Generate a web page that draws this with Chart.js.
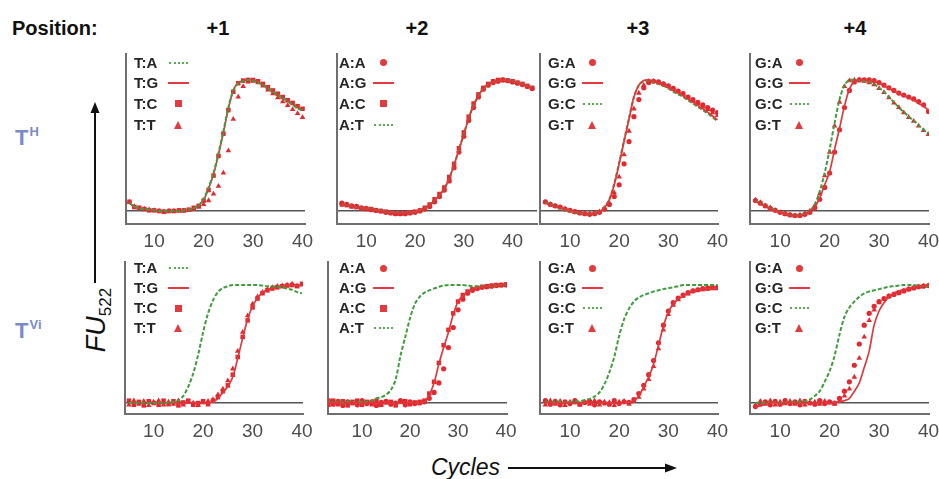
<!DOCTYPE html>
<html>
<head>
<meta charset="utf-8">
<script src="https://cdn.jsdelivr.net/npm/chart.js@4.4.1/dist/chart.umd.min.js"></script>
<style>
  html, body { margin: 0; padding: 0; background: #fff; }
  #fig { position: relative; width: 939px; height: 479px; overflow: hidden;
         font-family: "Liberation Sans", Arial, Helvetica, sans-serif; color: #111; }
  #fig canvas { position: absolute; }
  .txt { position: absolute; white-space: nowrap; line-height: 1; }
  .head { font-weight: bold; font-size: 20px; }
  .pos { transform: translateX(-50%); }
  .rowlab { color: #7a8bca; font-size: 22px; font-weight: bold; }
  .rowlab sup { font-size: 13px; vertical-align: 9px; margin-left: 1px; line-height: 0; }
  .leg { position: absolute; height: 20px; line-height: 20px; display: flex; align-items: center;
         font-weight: bold; font-size: 15px; color: #262626; white-space: nowrap; }
  .leg .t { width: 33px; }
  .leg .s { width: 22px; display: flex; justify-content: center; align-items: center; }
  .sym-line { width: 21px; height: 2px; background: #e23a3e; }
  .sym-dot { width: 19px; height: 0; border-top: 2px dotted #58ad50; }
  .sym-circle { width: 7px; height: 7px; border-radius: 50%; background: #e23a3e; }
  .sym-rect { width: 7px; height: 7px; background: #e23a3e; }
  .sym-triangle { width: 0; height: 0; border-left: 4.5px solid transparent;
                  border-right: 4.5px solid transparent; border-bottom: 8px solid #e23a3e; }
  #fu { position: absolute; left: 96px; top: 320px; transform: translate(-50%, -50%) rotate(-90deg);
        font-size: 27px; font-style: italic; white-space: nowrap; line-height: 1; }
  #fu sub { font-size: 17px; font-style: normal; vertical-align: -6px; line-height: 0; }
  #cyc { font-size: 23px; font-style: italic; }
</style>
</head>
<body>
<div id="fig">
  <svg width="939" height="479" style="position:absolute;left:0;top:0">
    <line x1="95" y1="283" x2="95" y2="112" stroke="#111" stroke-width="2"/>
    <polygon points="95,102 90.5,113 99.5,113" fill="#111"/>
    <line x1="508" y1="468" x2="666" y2="468" stroke="#111" stroke-width="2"/>
    <polygon points="677,468 665,463.5 665,472.5" fill="#111"/>
  </svg>
  <div id="fu">FU<sub>522</sub></div>
  <div class="txt" id="cyc" style="left:431px; top:456px;">Cycles</div>
</div>
<script>
// x values (PCR cycle numbers)
const cycles = [5, 6, 7, 8, 9, 10, 11, 12, 13, 14, 15, 16, 17, 18, 19, 20, 21, 22, 23, 24, 25, 26, 27, 28, 29, 30, 31, 32, 33, 34, 35, 36, 37, 38, 39, 40];
const cyclesTo44 = [5, 6, 7, 8, 9, 10, 11, 12, 13, 14, 15, 16, 17, 18, 19, 20, 21, 22, 23, 24, 25, 26, 27, 28, 29, 30, 31, 32, 33, 34, 35, 36, 37, 38, 39, 40, 41, 42, 43, 44];
const cyclesFrom3 = [3, 4, 5, 6, 7, 8, 9, 10, 11, 12, 13, 14, 15, 16, 17, 18, 19, 20, 21, 22, 23, 24, 25, 26, 27, 28, 29, 30, 31, 32, 33, 34, 35, 36, 37, 38, 39, 40];
const xTicks = [10, 20, 30, 40];

const positionLabels = ['+1', '+2', '+3', '+4'];
const rowLabels = ['H', 'Vi'];
const pairLabels = [
  ['T:A', 'T:G', 'T:C', 'T:T'],
  ['A:A', 'A:G', 'A:C', 'A:T'],
  ['G:A', 'G:G', 'G:C', 'G:T'],
  ['G:A', 'G:G', 'G:C', 'G:T']
];

// T^H row
const thP1_TA = [0.06, 0.035, 0.02, 0.015, 0.01, 0.005, 0.0, 0.0, -0.005, 0.0, 0.0, 0.005, 0.01, 0.02, 0.045, 0.09, 0.18, 0.29, 0.44, 0.61, 0.79, 0.92, 0.975, 0.99, 1.0, 0.995, 0.98, 0.96, 0.935, 0.91, 0.885, 0.86, 0.835, 0.81, 0.785, 0.765];
const thP1_TG = [0.06, 0.03, 0.02, 0.015, 0.01, 0.005, 0.0, 0.0, 0.0, 0.0, 0.0, 0.005, 0.01, 0.02, 0.04, 0.085, 0.17, 0.28, 0.43, 0.6, 0.78, 0.92, 0.98, 0.995, 1.0, 1.0, 0.985, 0.965, 0.94, 0.915, 0.89, 0.865, 0.84, 0.815, 0.795, 0.775];
const thP1_TC = [0.07, 0.03, 0.025, 0.015, 0.005, 0.005, 0.0, -0.005, 0.0, 0.0, 0.005, 0.005, 0.01, 0.025, 0.04, 0.08, 0.16, 0.27, 0.42, 0.59, 0.77, 0.91, 0.975, 0.995, 1.0, 1.0, 0.99, 0.97, 0.945, 0.92, 0.895, 0.87, 0.845, 0.825, 0.8, 0.78];
const thP1_TT = [0.07, 0.035, 0.02, 0.015, 0.01, 0.005, 0.0, -0.005, 0.0, 0.0, 0.0, 0.0, 0.005, 0.015, 0.03, 0.05, 0.08, 0.13, 0.19, 0.29, 0.46, 0.7, 0.87, 0.95, 0.985, 0.99, 0.98, 0.955, 0.925, 0.895, 0.865, 0.835, 0.805, 0.775, 0.745, 0.715];

const thP2_AA = [0.06, 0.05, 0.04, 0.035, 0.025, 0.02, 0.01, 0.005, 0.0, -0.01, -0.015, -0.02, -0.02, -0.02, -0.015, -0.01, 0.0, 0.015, 0.035, 0.07, 0.11, 0.16, 0.23, 0.33, 0.45, 0.57, 0.69, 0.79, 0.87, 0.93, 0.96, 0.98, 0.99, 1.0, 0.995, 0.985, 0.975, 0.965, 0.95, 0.935];
const thP2_AG = [0.05, 0.045, 0.04, 0.03, 0.025, 0.02, 0.015, 0.01, 0.0, -0.005, -0.01, -0.015, -0.015, -0.015, -0.01, -0.005, 0.005, 0.02, 0.045, 0.08, 0.12, 0.17, 0.25, 0.35, 0.47, 0.58, 0.71, 0.8, 0.88, 0.935, 0.965, 0.985, 0.995, 1.0, 0.995, 0.99, 0.98, 0.965, 0.955, 0.94];
const thP2_AC = [0.05, 0.045, 0.035, 0.03, 0.02, 0.015, 0.015, 0.005, 0.0, -0.005, -0.01, -0.02, -0.02, -0.015, -0.01, -0.005, 0.005, 0.025, 0.05, 0.09, 0.13, 0.18, 0.26, 0.36, 0.48, 0.6, 0.72, 0.82, 0.89, 0.94, 0.97, 0.99, 1.0, 1.0, 0.995, 0.99, 0.98, 0.97, 0.955, 0.94];
const thP2_AT = [0.05, 0.045, 0.04, 0.03, 0.025, 0.02, 0.015, 0.01, 0.005, -0.005, -0.01, -0.015, -0.015, -0.015, -0.01, -0.005, 0.005, 0.02, 0.045, 0.08, 0.12, 0.17, 0.25, 0.35, 0.47, 0.59, 0.71, 0.81, 0.88, 0.935, 0.965, 0.985, 0.995, 1.0, 0.995, 0.99, 0.98, 0.97, 0.955, 0.945];

const thP3_GA = [0.07, 0.05, 0.04, 0.03, 0.015, 0.005, -0.005, -0.015, -0.02, -0.025, -0.02, -0.01, 0.015, 0.05, 0.11, 0.2, 0.36, 0.53, 0.72, 0.85, 0.94, 0.98, 0.99, 0.985, 0.97, 0.955, 0.935, 0.915, 0.895, 0.87, 0.85, 0.83, 0.81, 0.79, 0.77, 0.75];
const thP3_GG = [0.06, 0.045, 0.035, 0.025, 0.015, 0.005, -0.005, -0.012, -0.018, -0.02, -0.015, -0.005, 0.025, 0.085, 0.2, 0.36, 0.53, 0.7, 0.87, 0.96, 0.995, 1.0, 0.99, 0.975, 0.96, 0.945, 0.92, 0.9, 0.88, 0.855, 0.83, 0.805, 0.78, 0.755, 0.725, 0.695];
const thP3_GC = [0.065, 0.05, 0.035, 0.02, 0.01, 0.0, -0.01, -0.015, -0.02, -0.02, -0.015, -0.005, 0.03, 0.09, 0.21, 0.37, 0.54, 0.71, 0.87, 0.96, 0.99, 0.995, 0.985, 0.97, 0.955, 0.935, 0.91, 0.89, 0.87, 0.845, 0.82, 0.795, 0.77, 0.745, 0.715, 0.685];
const thP3_GT = [0.065, 0.05, 0.035, 0.025, 0.015, 0.0, -0.01, -0.015, -0.02, -0.02, -0.015, -0.005, 0.02, 0.06, 0.14, 0.26, 0.43, 0.61, 0.78, 0.9, 0.96, 0.99, 0.99, 0.98, 0.965, 0.95, 0.93, 0.91, 0.89, 0.865, 0.84, 0.82, 0.795, 0.775, 0.75, 0.73];

const thP4_GA = [0.08, 0.06, 0.04, 0.02, 0.005, -0.01, -0.02, -0.03, -0.035, -0.035, -0.025, -0.01, 0.025, 0.09, 0.18, 0.29, 0.45, 0.62, 0.79, 0.92, 0.985, 1.0, 1.0, 1.0, 0.995, 0.98, 0.96, 0.94, 0.92, 0.9, 0.885, 0.87, 0.855, 0.835, 0.81, 0.76];
const thP4_GG = [0.075, 0.055, 0.035, 0.015, 0.0, -0.012, -0.022, -0.03, -0.037, -0.035, -0.025, -0.005, 0.03, 0.1, 0.2, 0.3, 0.47, 0.63, 0.8, 0.93, 0.99, 1.0, 1.0, 0.995, 0.99, 0.975, 0.955, 0.935, 0.915, 0.895, 0.88, 0.865, 0.845, 0.82, 0.8, 0.77];
const thP4_GC = [0.08, 0.06, 0.04, 0.02, 0.005, -0.01, -0.02, -0.03, -0.035, -0.03, -0.02, 0.0, 0.05, 0.15, 0.29, 0.47, 0.67, 0.85, 0.96, 1.0, 1.0, 0.995, 0.99, 0.985, 0.97, 0.94, 0.91, 0.87, 0.83, 0.79, 0.755, 0.72, 0.69, 0.655, 0.62, 0.59];
const thP4_GT = [0.085, 0.065, 0.04, 0.025, 0.005, -0.01, -0.025, -0.03, -0.035, -0.03, -0.02, 0.0, 0.04, 0.13, 0.27, 0.45, 0.65, 0.83, 0.95, 0.995, 1.0, 1.0, 0.99, 0.98, 0.965, 0.935, 0.905, 0.865, 0.825, 0.79, 0.75, 0.715, 0.685, 0.65, 0.615, 0.585];

// T^Vi row
const tvP1_TA = [0.0, 0.005, 0.0, 0.005, 0.0, 0.0, 0.005, 0.0, 0.005, 0.01, 0.02, 0.06, 0.14, 0.25, 0.41, 0.6, 0.76, 0.87, 0.94, 0.975, 0.99, 1.0, 1.0, 1.0, 1.0, 1.0, 1.0, 0.995, 0.99, 0.99, 0.985, 0.98, 0.97, 0.96, 0.94, 0.93];
const tvP1_TG = [0.01, 0.0, 0.005, -0.005, 0.0, 0.005, 0.0, -0.005, 0.0, 0.005, 0.0, -0.005, 0.0, 0.005, 0.0, -0.005, 0.0, 0.01, 0.04, 0.09, 0.14, 0.22, 0.38, 0.55, 0.71, 0.82, 0.89, 0.935, 0.96, 0.975, 0.985, 0.99, 0.995, 1.0, 1.0, 1.0];
const tvP1_TC = [0.02, -0.015, 0.01, -0.02, 0.015, 0.0, -0.015, 0.02, -0.01, 0.015, -0.02, 0.005, 0.02, -0.015, 0.0, 0.015, -0.01, 0.02, 0.05, 0.1, 0.15, 0.24, 0.39, 0.56, 0.7, 0.81, 0.885, 0.93, 0.955, 0.97, 0.98, 0.99, 0.995, 1.0, 0.99, 1.01];
const tvP1_TT = [-0.015, 0.02, -0.01, 0.015, -0.02, 0.01, 0.02, -0.015, 0.01, -0.01, 0.02, -0.015, 0.01, 0.0, -0.02, 0.01, 0.015, 0.03, 0.07, 0.12, 0.19, 0.29, 0.44, 0.6, 0.74, 0.84, 0.9, 0.94, 0.965, 0.98, 0.99, 0.995, 1.0, 1.01, 0.995, 1.0];

const tvP2_AA = [0.02, -0.01, 0.015, -0.02, 0.01, 0.0, -0.015, 0.02, -0.005, 0.01, -0.02, 0.005, 0.015, -0.01, 0.0, 0.02, -0.015, 0.01, -0.005, 0.0, 0.01, 0.04, 0.09, 0.17, 0.29, 0.47, 0.64, 0.79, 0.88, 0.93, 0.955, 0.97, 0.98, 0.985, 0.99, 0.995, 1.0, 1.0];
const tvP2_AG = [0.005, 0.0, 0.005, -0.005, 0.0, 0.005, 0.0, -0.005, 0.0, 0.005, -0.005, 0.0, 0.005, 0.0, -0.005, 0.0, 0.0, 0.005, 0.0, 0.0, 0.01, 0.07, 0.17, 0.33, 0.47, 0.6, 0.75, 0.86, 0.91, 0.94, 0.96, 0.975, 0.985, 0.99, 0.995, 0.995, 1.0, 1.0];
const tvP2_AC = [-0.015, 0.02, -0.01, 0.015, -0.02, 0.01, 0.02, -0.015, 0.01, -0.01, 0.02, -0.015, 0.005, 0.01, -0.02, 0.01, 0.015, -0.01, 0.005, 0.01, 0.02, 0.08, 0.18, 0.34, 0.49, 0.62, 0.76, 0.86, 0.915, 0.945, 0.965, 0.975, 0.985, 0.99, 0.995, 1.0, 1.0, 1.005];
const tvP2_AT = [0.01, 0.005, 0.01, 0.005, 0.01, 0.01, 0.005, 0.01, 0.01, 0.02, 0.04, 0.05, 0.07, 0.11, 0.2, 0.4, 0.56, 0.72, 0.84, 0.9, 0.935, 0.955, 0.97, 0.985, 0.995, 1.0, 1.0, 1.0, 1.0, 0.995, 0.99, 0.99, 0.99, 0.99, 0.995, 0.995, 1.0, 1.0];

const tvP3_GA = [0.02, -0.01, 0.015, -0.015, 0.01, -0.005, 0.02, -0.01, 0.005, 0.015, -0.015, 0.01, 0.0, -0.01, 0.02, -0.005, 0.01, 0.005, 0.03, 0.08, 0.15, 0.24, 0.36, 0.51, 0.66, 0.78, 0.85, 0.89, 0.915, 0.935, 0.95, 0.96, 0.97, 0.975, 0.98, 0.98];
const tvP3_GG = [0.0, 0.005, -0.005, 0.0, 0.005, 0.0, -0.005, 0.0, 0.005, 0.0, -0.005, 0.0, 0.005, 0.0, 0.0, -0.005, 0.0, 0.005, 0.02, 0.06, 0.14, 0.22, 0.33, 0.49, 0.65, 0.77, 0.84, 0.88, 0.91, 0.93, 0.95, 0.96, 0.965, 0.97, 0.97, 0.975];
const tvP3_GC = [0.01, 0.005, 0.01, 0.01, 0.005, 0.01, 0.01, 0.015, 0.025, 0.035, 0.055, 0.09, 0.16, 0.26, 0.39, 0.57, 0.71, 0.8, 0.86, 0.895, 0.915, 0.93, 0.945, 0.955, 0.965, 0.975, 0.98, 0.99, 1.0, 1.0, 1.0, 1.0, 1.0, 1.0, 1.0, 1.0];
const tvP3_GT = [-0.015, 0.02, -0.01, 0.015, -0.02, 0.01, 0.015, -0.015, 0.01, -0.01, 0.02, -0.015, 0.01, 0.005, -0.02, 0.01, 0.015, -0.01, 0.015, 0.05, 0.12, 0.2, 0.31, 0.46, 0.62, 0.75, 0.83, 0.875, 0.905, 0.925, 0.945, 0.955, 0.96, 0.965, 0.97, 0.97];

const tvP4_GA = [-0.03, -0.01, 0.01, -0.015, 0.015, -0.01, 0.02, -0.005, 0.01, -0.015, 0.015, 0.0, -0.01, 0.02, -0.005, 0.01, 0.0, 0.04, 0.1, 0.18, 0.32, 0.5, 0.66, 0.76, 0.82, 0.86, 0.885, 0.905, 0.92, 0.935, 0.95, 0.965, 0.975, 0.985, 0.99, 0.995];
const tvP4_GG = [-0.04, -0.02, -0.01, 0.0, 0.005, -0.005, 0.0, 0.005, 0.0, -0.005, 0.0, 0.005, 0.0, 0.0, 0.005, 0.0, 0.005, 0.01, 0.02, 0.04, 0.1, 0.17, 0.3, 0.44, 0.66, 0.78, 0.85, 0.9, 0.93, 0.95, 0.96, 0.97, 0.98, 0.99, 0.995, 1.0];
const tvP4_GC = [0.0, 0.005, 0.0, 0.005, 0.005, 0.0, 0.005, 0.005, 0.01, 0.01, 0.015, 0.03, 0.06, 0.1, 0.18, 0.27, 0.4, 0.58, 0.73, 0.81, 0.86, 0.9, 0.93, 0.945, 0.955, 0.965, 0.975, 0.985, 0.99, 0.995, 1.0, 1.0, 1.0, 0.995, 0.99, 0.99];
const tvP4_GT = [-0.02, 0.015, -0.01, 0.02, -0.015, 0.01, -0.005, 0.015, -0.01, 0.02, -0.015, 0.005, 0.01, -0.01, 0.015, 0.0, -0.01, 0.02, 0.06, 0.12, 0.22, 0.38, 0.56, 0.7, 0.79, 0.85, 0.88, 0.905, 0.92, 0.935, 0.95, 0.965, 0.975, 0.985, 0.99, 0.995];

// series grouped per panel, in legend order
const panelSeries = [
  [[thP1_TA, thP1_TG, thP1_TC, thP1_TT], [thP2_AA, thP2_AG, thP2_AC, thP2_AT],
   [thP3_GA, thP3_GG, thP3_GC, thP3_GT], [thP4_GA, thP4_GG, thP4_GC, thP4_GT]],
  [[tvP1_TA, tvP1_TG, tvP1_TC, tvP1_TT], [tvP2_AA, tvP2_AG, tvP2_AC, tvP2_AT],
   [tvP3_GA, tvP3_GG, tvP3_GC, tvP3_GT], [tvP4_GA, tvP4_GG, tvP4_GC, tvP4_GT]]
];
const panelCycles = [
  [cycles, cyclesTo44, cycles, cycles],
  [cycles, cyclesFrom3, cycles, cycles]
];

// ---- styling / layout ----
const RED = '#e2292f';
const RED_LINE = '#e0383c';
const GREEN = '#3f9d3c';
const markStyles = [
  ['dot', 'line', 'rect', 'triangle'],
  ['circle', 'line', 'rect', 'dot'],
  ['circle', 'line', 'dot', 'triangle'],
  ['circle', 'line', 'dot', 'triangle']
];
const rowBox = [
  { top: 54, bottom: 224, yMin: -0.099, yMax: 1.198, legTop: 62.5, legStep: 20.7, labTop: 127 },
  { top: 262, bottom: 414, yMin: -0.093, yMax: 1.195, legTop: 268, legStep: 20, labTop: 320 }
];
const colBox = [
  [{ x: 126, x2: 305, min: 4.3, max: 40.5 }, { x: 337, x2: 537, min: 4.0, max: 45.0 },
   { x: 540, x2: 718, min: 3.9, max: 40.1 }, { x: 750, x2: 929, min: 3.9, max: 40.1 }],
  [{ x: 125, x2: 303, min: 4.2, max: 40.2 }, { x: 328, x2: 507, min: 2.9, max: 40.2 },
   { x: 540, x2: 718, min: 3.9, max: 40.1 }, { x: 750, x2: 929, min: 3.9, max: 40.1 }]
];
const legX = [134, 339, 548, 755];
const headX = [218, 417, 638, 855];
const TICK_SIZE = 19, TICK_PAD = 8;
const PADL = 6, PADT = 4, PADR = 22, PADB = 3;
const XAXIS_H = TICK_SIZE + 2 * TICK_PAD;

const fig = document.getElementById('fig');

function addText(html, cls, left, top) {
  const d = document.createElement('div');
  d.className = 'txt ' + cls;
  d.style.left = left + 'px';
  d.style.top = top + 'px';
  d.innerHTML = html;
  fig.appendChild(d);
}

addText('Position:', 'head', 12, 18);
positionLabels.forEach((p, i) => addText(p, 'head pos', headX[i], 18));
rowLabels.forEach((r, i) => addText('T<sup>' + r + '</sup>', 'rowlab', 15, rowBox[i].labTop));

function datasetFor(vals, xs, style) {
  const pts = xs.map((x, k) => ({ x: x, y: vals[k] }));
  if (style === 'line') {
    return { data: pts, borderColor: RED_LINE, borderWidth: 1.7, pointRadius: 0, tension: 0.3, order: 0 };
  }
  if (style === 'dot') {
    return { data: pts, borderColor: GREEN, borderWidth: 2, borderDash: [4, 2], pointRadius: 0, tension: 0.3, order: 0 };
  }
  return {
    data: pts, showLine: false, pointStyle: style,
    pointRadius: style === 'circle' ? 2.6 : 3.2, pointBorderWidth: 0,
    pointBackgroundColor: RED, borderColor: RED, order: 1
  };
}

function buildPanel(r, c) {
  const rb = rowBox[r], cb = colBox[r][c];
  const w = PADL + (cb.x2 - cb.x) + PADR;
  const h = PADT + (rb.bottom - rb.top) + XAXIS_H + PADB;
  const cv = document.createElement('canvas');
  cv.width = w; cv.height = h;
  cv.style.left = (cb.x - PADL) + 'px';
  cv.style.top = (rb.top - PADT) + 'px';
  cv.style.width = w + 'px'; cv.style.height = h + 'px';
  fig.appendChild(cv);

  const xs = panelCycles[r][c];
  const datasets = panelSeries[r][c].map((vals, i) => datasetFor(vals, xs, markStyles[c][i]));

  new Chart(cv, {
    type: 'line',
    data: { datasets: datasets },
    options: {
      responsive: false,
      animation: false,
      devicePixelRatio: 1,
      layout: { padding: { left: PADL, top: PADT, right: PADR, bottom: PADB } },
      plugins: { legend: { display: false }, tooltip: { enabled: false } },
      scales: {
        x: {
          type: 'linear', min: cb.min, max: cb.max,
          afterBuildTicks: s => { s.ticks = xTicks.map(v => ({ value: v })); },
          ticks: { color: '#4d4d4d', padding: TICK_PAD, maxRotation: 0, autoSkip: false,
                   font: { family: '"Liberation Sans", Arial, sans-serif', size: TICK_SIZE, lineHeight: 1 } },
          grid: { display: false, drawTicks: false },
          border: { display: true, color: '#6f6f6f', width: 2 }
        },
        y: {
          min: rb.yMin, max: rb.yMax,
          afterBuildTicks: s => { s.ticks = [{ value: 0 }]; },
          ticks: { display: false },
          grid: { drawTicks: false, color: '#555', lineWidth: 1.5 },
          border: { display: true, color: '#6f6f6f', width: 2 }
        }
      }
    }
  });

  // legend (html text)
  pairLabels[c].forEach((lab, i) => {
    const d = document.createElement('div');
    d.className = 'leg';
    d.style.left = legX[c] + 'px';
    d.style.top = (rb.legTop + i * rb.legStep - 10) + 'px';
    d.innerHTML = '<span class="t">' + lab + '</span><span class="s"><span class="sym-' + markStyles[c][i] + '"></span></span>';
    fig.appendChild(d);
  });
}

for (let r = 0; r < 2; r++) {
  for (let c = 0; c < 4; c++) buildPanel(r, c);
}
</script>
</body>
</html>
